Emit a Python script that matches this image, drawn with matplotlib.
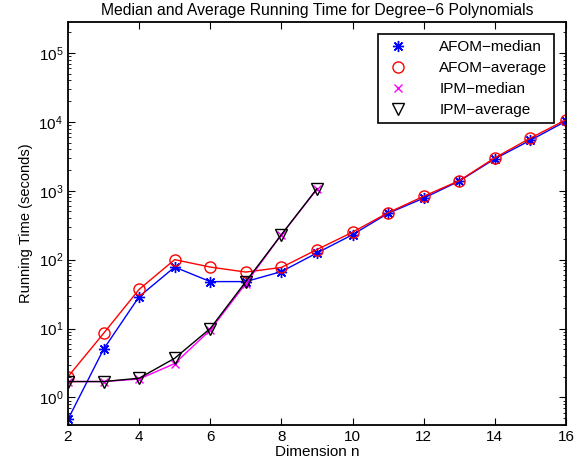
import matplotlib
matplotlib.use('Agg')
import matplotlib.pyplot as plt
from matplotlib.lines import Line2D
import numpy as np

plt.rcParams['font.family'] = ['Liberation Sans', 'DejaVu Sans']

dims = np.arange(2, 17)
afom_median = [0.48, 5.0, 29, 78, 48, 48, 67, 125, 230, 470, 780, 1380, 2900, 5400, 10200]
afom_average = [2.0, 8.5, 37, 100, 78, 66, 77, 140, 250, 480, 830, 1400, 3000, 5800, 10700]
ipm_dims = np.arange(2, 10)
ipm_median = [1.7, 1.7, 1.85, 3.1, 9.5, 45, 230, 1050]
ipm_average = [1.7, 1.7, 1.9, 3.7, 10, 48, 230, 1070]

star = (8, 2, 0)  # asterisk marker like matlab '*'

fig = plt.figure(figsize=(5.81, 4.71), dpi=100)
ax = fig.add_axes([0.117, 0.098, 0.857, 0.855])

ax.plot(dims, afom_median, color='blue', marker=star, ms=8, mew=1, lw=1)
ax.plot(dims, afom_average, color='red', marker='o', mfc='none', ms=8, lw=1)
ax.plot(ipm_dims, ipm_median, color='magenta', marker='x', ms=6, lw=1)
ax.plot(ipm_dims, ipm_average, color='black', marker='v', mfc='none', ms=8, lw=1)

ax.set_yscale('log')
ax.set_xlim(2, 16)
ax.set_ylim(0.4, 2.8e5)
ax.set_xticks(range(2, 17, 2))
ax.tick_params(which='both', direction='in', top=True, right=True, labelsize=11)
ax.tick_params(which='major', length=5)
ax.tick_params(which='minor', length=2.5)
for s in ax.spines.values():
    s.set_linewidth(1.3)

ax.set_xlabel('Dimension n', fontsize=11, labelpad=1)
ax.set_ylabel('Running Time (seconds)', fontsize=10.5)
ax.set_title('Median and Average Running Time for Degree\u22126 Polynomials', fontsize=11.3, pad=5)

handles = [
    Line2D([], [], ls='none', color='blue', marker=star, ms=8, mew=1),
    Line2D([], [], ls='none', color='red', marker='o', mfc='none', ms=8),
    Line2D([], [], ls='none', color='magenta', marker='x', ms=6),
    Line2D([], [], ls='none', color='black', marker='v', mfc='none', ms=8),
]
labels = ['AFOM\u2212median', 'AFOM\u2212average', 'IPM\u2212median', 'IPM\u2212average']
leg = ax.legend(handles, labels, loc='upper right', fontsize=11, fancybox=False,
                edgecolor='black', framealpha=1, borderaxespad=0.8, borderpad=0.4,
                handlelength=1.8, handletextpad=1.8, labelspacing=0.45)
leg.get_frame().set_linewidth(1.2)

fig.savefig('out.png', dpi=100)
